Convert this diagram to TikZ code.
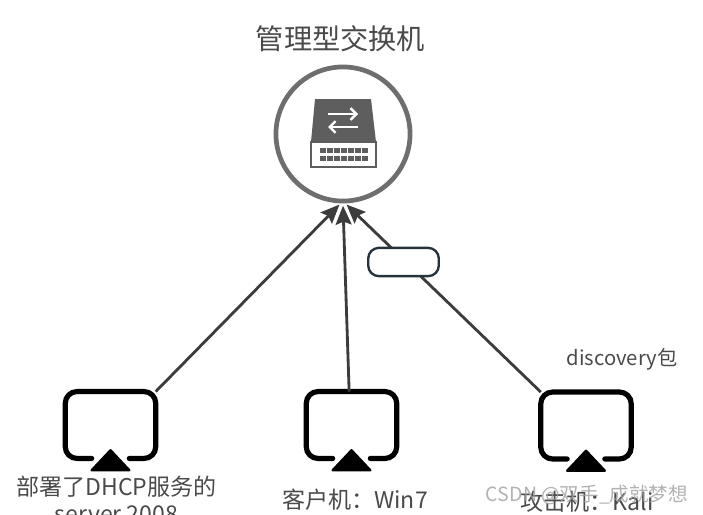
\documentclass[tikz,border=0pt]{standalone}
\usepackage{fontspec}
\setmainfont{Noto Sans CJK SC}
\usetikzlibrary{arrows.meta}
\definecolor{inkgray}{HTML}{4A4A4A}
\definecolor{ringgray}{HTML}{6E6E6E}
\definecolor{icongray}{HTML}{5E5E5E}
\definecolor{linegray}{HTML}{3C3C3C}
\definecolor{pilledge}{HTML}{26323C}
\tikzset{
  screen/.style={minimum width=76.5pt,minimum height=56.5pt,inner sep=0pt},
  screenline/.style={line width=4.4pt,line cap=round,rounded corners=10pt},
  link/.style={linegray,line width=2.4pt,-{Stealth[length=16pt,width=13.5pt,inset=2.5pt]}},
  caption/.style={inkgray,inner sep=0pt,font=\fontsize{19.6}{23}\selectfont,align=center},
}
\newcommand{\screenicon}[1]{
  \draw[screenline] ([xshift=-16pt]#1.south) -- (#1.south west) -- (#1.north west)
    -- (#1.north east) -- (#1.south east) -- ([xshift=16pt]#1.south);
  \fill[draw,line join=round,line width=2pt] ([xshift=-16pt,yshift=-10pt]#1.south)
    -- ([yshift=7pt]#1.south) -- ([xshift=16pt,yshift=-10pt]#1.south) -- cycle;
}
\begin{document}
\begin{tikzpicture}[x=0.85pt,y=-0.85pt]
\useasboundingbox (0,0) rectangle (703,514);
% switch
\node[circle,draw=ringgray,line width=4pt,fill=white,minimum size=114pt,inner sep=0pt] (switch) at (343,134) {};
\fill[icongray] (315,99) -- (371,99) -- (376,142) -- (311,142) -- cycle;
\draw[icongray,line width=1.4pt] (311,142) rectangle (376,167);
\draw[white,line width=2pt,-{Straight Barb[length=5pt,width=10pt]}] (328,114) -- (358,114);
\draw[white,line width=2pt,-{Straight Barb[length=5pt,width=10pt]}] (358,127) -- (328,127);
\foreach \y in {150,158}
  \foreach \x in {320,327,...,362}
    \fill[icongray] (\x,\y-2.5) rectangle (\x+5.5,\y+2.5);
\node[inkgray,inner sep=0pt,font=\fontsize{24}{28}\selectfont] (title) at (340.5,39) {管理型交换机};
% hosts
\node[screen] (server) at (110.5,425) {};
\node[screen] (client) at (351.5,425) {};
\node[screen] (kali) at (586,425.5) {};
\screenicon{server}
\screenicon{client}
\screenicon{kali}
% links
\draw[link] (server.north east) -- ([xshift=-3pt,yshift=-1pt]switch.south);
\draw[link] ([xshift=-2pt]client.north) -- ([yshift=-2pt]switch.south);
\draw[link] (kali.north west) -- ([xshift=3pt,yshift=-1pt]switch.south);
\node[draw=pilledge,line width=2pt,fill=white,rounded corners=9pt,minimum width=60pt,minimum height=24pt,inner sep=0pt] (packet) at (403.5,262) {};
% labels
\node[caption] (serverlabel) at (116.5,499) {部署了DHCP服务的\\server 2008};
\node[caption] (clientlabel) at (355,500) {客户机：Win7};
\node[caption] (kalilabel) at (587,502) {攻击机：Kali};
\node[inkgray,inner sep=0pt,font=\fontsize{17.2}{20}\selectfont] (discovery) at (622,359) {discovery包};
\node[gray!75,opacity=0.8,inner sep=0pt,font=\fontsize{16.6}{20}\selectfont] (mark) at (587,495) {CSDN @双手\_成就梦想};
\end{tikzpicture}
\end{document}
